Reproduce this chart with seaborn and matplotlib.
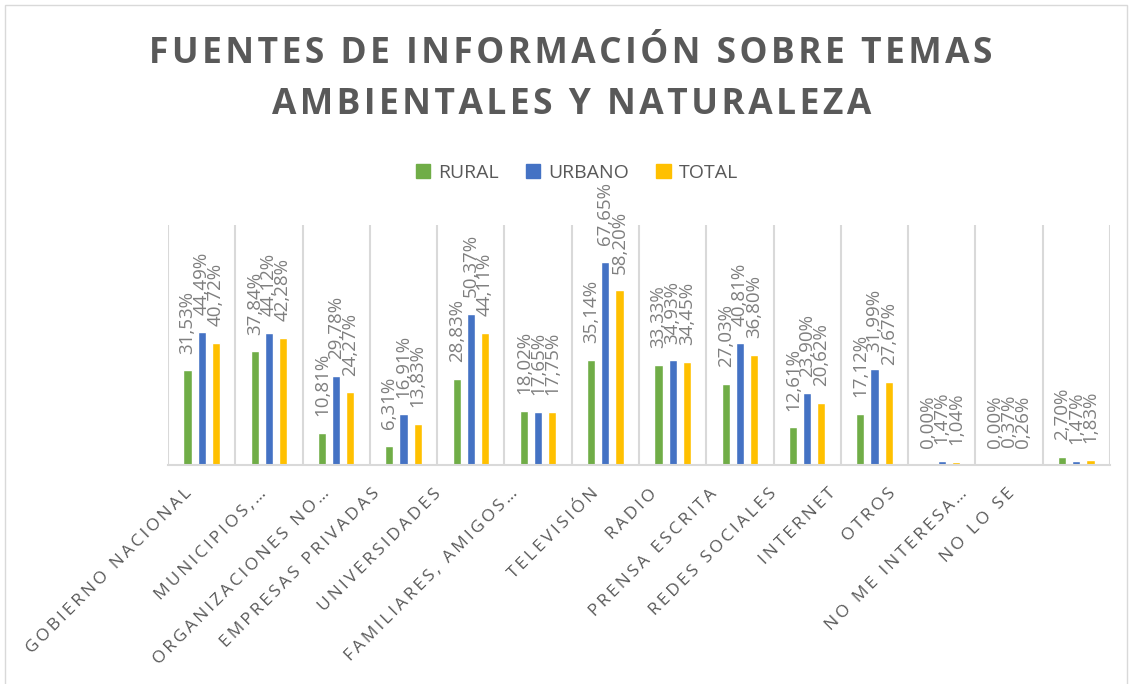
import seaborn as sns
import matplotlib.pyplot as plt
import pandas as pd
from matplotlib.patches import Patch, Rectangle
from matplotlib.transforms import ScaledTranslation

fuentes = ['GOBIERNO NACIONAL', 'MUNICIPIOS,…', 'ORGANIZACIONES NO…', 'EMPRESAS PRIVADAS',
           'UNIVERSIDADES', 'FAMILIARES, AMIGOS…', 'TELEVISIÓN', 'RADIO', 'PRENSA ESCRITA',
           'REDES SOCIALES', 'INTERNET', 'OTROS', 'NO ME INTERESA…', 'NO LO SE']
rural = [31.53, 37.84, 10.81, 6.31, 28.83, 18.02, 35.14, 33.33, 27.03, 12.61, 17.12, 0.00, 0.00, 2.70]
urbano = [44.49, 44.12, 29.78, 16.91, 50.37, 17.65, 67.65, 34.93, 40.81, 23.90, 31.99, 1.47, 0.37, 1.47]
total = [40.72, 42.28, 24.27, 13.83, 44.11, 17.75, 58.20, 34.45, 36.80, 20.62, 27.67, 1.04, 0.26, 1.83]
zonas = ['RURAL', 'URBANO', 'TOTAL']
colores = ['#70AD47', '#4472C4', '#FFC000']

# horizontal shift (px) of each category label, as Excel placed them
desplaz = [-12, -5, -9, -26, -32, -23, -9, -18, -25, -33, -41, -48, -44, -64]

df = pd.DataFrame({
    'fuente': fuentes * 3,
    'zona': [z for z in zonas for _ in fuentes],
    'pct': rural + urbano + total,
})

sns.set_style('white')
plt.rcParams['font.family'] = ['Open Sans', 'DejaVu Sans']
gris = '#595959'


def spaced(s, sep='\u2009'):
    return sep.join(s)


fig = plt.figure(figsize=(11.31, 6.84), dpi=100)
ax = fig.add_axes([168 / 1131, 1 - 465 / 684, (1110 - 168) / 1131, (465 - 225) / 684])

sns.barplot(data=df, x='fuente', y='pct', hue='zona', palette=colores, width=0.63, gap=0.43,
            legend=False, ax=ax, saturation=1)

for cont, vals in zip(ax.containers, [rural, urbano, total]):
    ax.bar_label(cont, labels=[f'{v:.2f}%'.replace('.', ',') for v in vals], rotation=90,
                 padding=12, color='#7F7F7F', fontsize=13.5)

ax.set_ylim(0, 80)
ax.set_xlim(-0.5, len(fuentes) - 0.5)
ax.set_yticks([])
ax.set_xlabel('')
ax.set_ylabel('')
ax.set_xticks(range(len(fuentes)))
ax.set_xticklabels([spaced(f) for f in fuentes], rotation=45, ha='right', va='center',
                   rotation_mode='anchor', color=gris, fontsize=12.5)
ax.tick_params(axis='x', length=0, pad=19)
for lbl, dx in zip(ax.get_xticklabels(), desplaz):
    lbl.set_transform(lbl.get_transform() + ScaledTranslation(dx / 100, 0, fig.dpi_scale_trans))
ax.set_xticks([i - 0.5 for i in range(len(fuentes) + 1)], minor=True)
ax.grid(axis='x', which='minor', color='#D9D9D9', linewidth=1.5)
ax.grid(axis='x', which='major', visible=False)
for s in ['top', 'left', 'right']:
    ax.spines[s].set_visible(False)
ax.spines['bottom'].set_color('#D9D9D9')
ax.spines['bottom'].set_linewidth(1.5)

fig.text(0.505, 1 - 54 / 684, spaced('FUENTES DE INFORMACIÓN SOBRE TEMAS', '\u200a'),
         ha='center', va='center', fontsize=25.5, fontweight='bold', color=gris)
fig.text(0.505, 1 - 105 / 684, spaced('AMBIENTALES Y NATURALEZA', '\u200a'),
         ha='center', va='center', fontsize=25.5, fontweight='bold', color=gris)

handles = [Patch(color=c) for c in colores]
fig.legend(handles, zonas, loc='center', bbox_to_anchor=(0.51, 1 - 173 / 684), ncol=3,
           frameon=False, fontsize=14, labelcolor=gris, handlelength=0.75, handleheight=0.75,
           handletextpad=0.4, columnspacing=1.4)

fig.patches.append(Rectangle((5 / 1131, -0.01), 1122 / 1131, 1 - 5 / 684 + 0.01,
                             transform=fig.transFigure, fill=False, edgecolor='#D9D9D9',
                             linewidth=1))

fig.savefig('out.png', dpi=100)
